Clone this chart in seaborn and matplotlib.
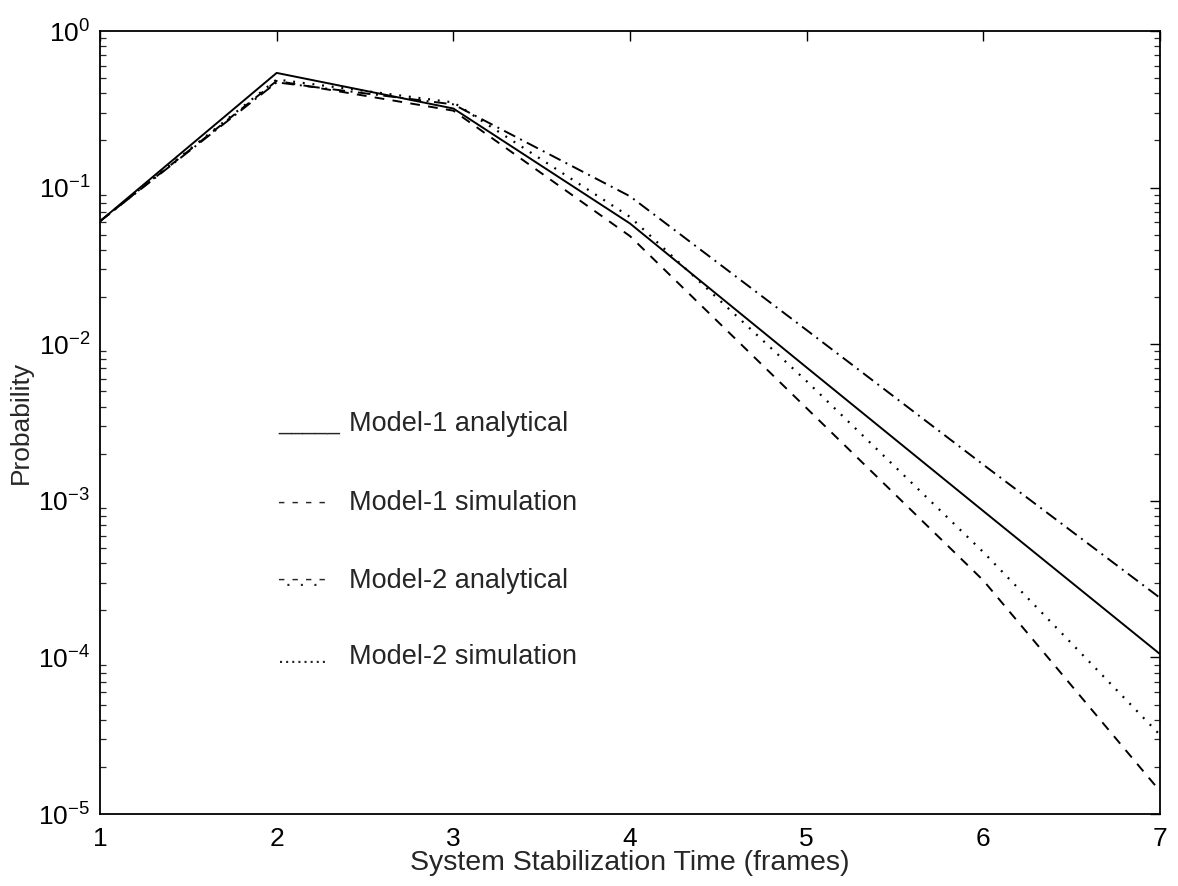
import numpy as np
import pandas as pd
import matplotlib
matplotlib.use("Agg")
import matplotlib.pyplot as plt
import seaborn as sns
from matplotlib.ticker import LogLocator, LogFormatterSciNotation, FixedLocator

# ---- data ----
frames = [1, 2, 3, 4, 5, 6, 7]
model1_analytical = [0.061, 0.54, 0.32, 0.059, 0.0071, 8.6e-4, 1.05e-4]
model1_simulation = [0.061, 0.48, 0.31, 0.049, 0.0039, 3.1e-4, 1.4e-5]
model2_analytical = [0.061, 0.47, 0.34, 0.088, 0.0123, 1.7e-3, 2.4e-4]
model2_simulation = [0.061, 0.49, 0.35, 0.065, 0.0058, 4.7e-4, 3.2e-5]

series_names = ["Model-1 analytical", "Model-1 simulation",
                "Model-2 analytical", "Model-2 simulation"]
legend_marks = ["_____", "- - - -", "-.-.-.-", "........"]
x_ticks = [1, 2, 3, 4, 5, 6, 7]

sns.set_style("white")
plt.rcParams['font.family'] = ['Liberation Sans', 'DejaVu Sans']
plt.rcParams['mathtext.fontset'] = 'custom'
plt.rcParams['mathtext.rm'] = 'Liberation Sans'
plt.rcParams['mathtext.it'] = 'Liberation Sans'
plt.rcParams['mathtext.default'] = 'regular'
plt.rcParams['lines.scale_dashes'] = False

W, H = 1178, 886
fig = plt.figure(figsize=(W / 100, H / 100), dpi=100)
L, R, T, B = 100, 1160, 31, 814
ax = fig.add_axes([L / W, 1 - B / H, (R - L) / W, (B - T) / H])

styles = ["-", (0, (7, 6)), (0, (9, 4, 1.4, 4)), (0, (1.4, 5.6))]
widths = [1.4, 1.4, 1.4, 1.6]
data = [model1_analytical, model1_simulation, model2_analytical, model2_simulation]

for name, vals, ls, lw in zip(series_names, data, styles, widths):
    df = pd.DataFrame({"frames": frames, "prob": vals})
    sns.lineplot(data=df, x="frames", y="prob", ax=ax, color="black",
                 linewidth=lw, linestyle=ls, legend=False)

ax.set_yscale("log")
ax.set_xlim(1, 7)
ax.set_ylim(1e-5, 1)
ax.xaxis.set_major_locator(FixedLocator(x_ticks))
ax.yaxis.set_major_locator(LogLocator(base=10, numticks=10))
ax.yaxis.set_minor_locator(LogLocator(base=10, subs=np.arange(2, 10), numticks=20))
ax.yaxis.set_major_formatter(LogFormatterSciNotation())

for s in ax.spines.values():
    s.set_visible(True)
    s.set_color("black")
    s.set_linewidth(1.3)

ax.tick_params(axis="both", which="major", direction="in", length=7, width=1.0,
               top=True, right=True, labelsize=19, colors="black", pad=7)
ax.tick_params(axis="y", which="minor", direction="in", length=4, width=0.9,
               left=True, right=True)
ax.tick_params(axis="x", which="minor", bottom=False, top=False)
ax.tick_params(axis="x", which="major", pad=9)

ax.set_xlabel("System Stabilization Time (frames)", fontsize=20.5, labelpad=0)
ax.set_ylabel("Probability", fontsize=19, labelpad=4)

# text-style legend inside the axes
rows_y = [0.498, 0.397, 0.298, 0.200]
for mark, name, yy in zip(legend_marks, series_names, rows_y):
    ax.text(0.168, yy, mark, transform=ax.transAxes, fontsize=16,
            va="center", ha="left")
    ax.text(0.235, yy, name, transform=ax.transAxes, fontsize=19.5,
            va="center", ha="left")

fig.savefig("out.png", dpi=100, facecolor="white")
